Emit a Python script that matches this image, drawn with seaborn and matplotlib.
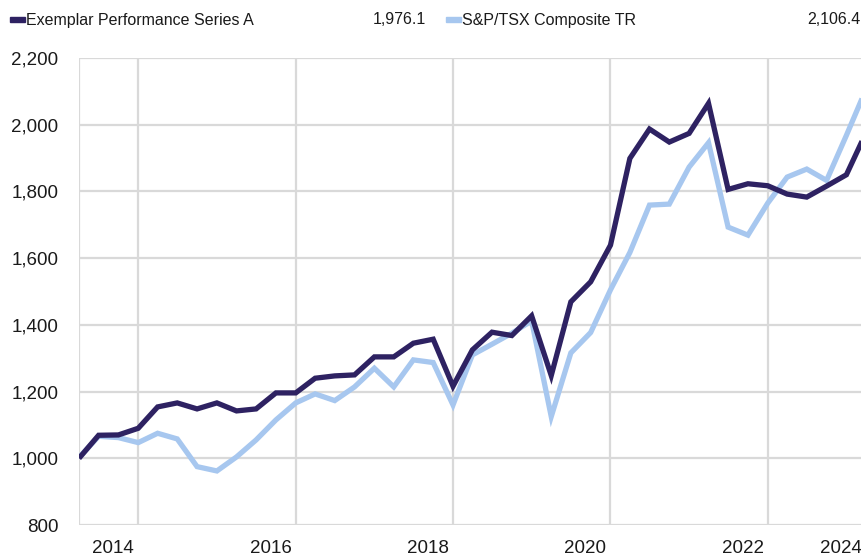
import pandas as pd
import matplotlib
matplotlib.use("Agg")
import matplotlib.pyplot as plt
import matplotlib.transforms as mtransforms
from matplotlib.patches import Rectangle
import seaborn as sns

# quarterly values, growth of 1,000 (Mar 2014 - Mar 2024)
quarters = pd.date_range("2014-03-31", periods=41, freq="QE")
series_a = [1000, 1069, 1070, 1090, 1154, 1166, 1148, 1166, 1142, 1148,
            1196, 1196, 1240, 1247, 1250, 1304, 1304, 1345, 1357, 1216,
            1325, 1378, 1368, 1427, 1248, 1469, 1529, 1639, 1899, 1987,
            1948, 1974, 2064, 1806, 1823, 1817, 1792, 1783, 1816, 1850,
            1976.1]
tsx = [1002, 1066, 1062, 1047, 1075, 1058, 975, 962, 1004, 1055,
       1115, 1166, 1193, 1173, 1214, 1270, 1214, 1295, 1287, 1160,
       1310, 1342, 1375, 1412, 1125, 1316, 1377, 1505, 1617, 1759,
       1762, 1873, 1946, 1693, 1669, 1765, 1843, 1867, 1833, 1968,
       2106.4]
series_names = ["Exemplar Performance Series A", "S&P/TSX Composite TR"]
colors = ["#2e2262", "#a7c7ef"]

tick_dates = [quarters[0]] + list(pd.to_datetime(["2014-12-31", "2016-12-31", "2018-12-31",
                                                  "2020-12-31", "2022-12-31"])) + [quarters[-1]]
tick_labels = ["", "2014", "2016", "2018", "2020", "2022", "2024"]
y_ticks = [800, 1000, 1200, 1400, 1600, 1800, 2000, 2200]

df = pd.DataFrame({"Date": list(quarters) * 2,
                   "Value": series_a + tsx,
                   "Series": [series_names[0]] * len(series_a) + [series_names[1]] * len(tsx)})

sns.set_theme(style="white")
plt.rcParams["font.family"] = ["Liberation Sans", "DejaVu Sans"]
grid_c = "#d9d9d9"

fig = plt.figure(figsize=(8.61, 5.57), dpi=100)
# plot area runs a few pixels past the right edge (last point is clipped)
ax = fig.add_axes([79 / 861, 1 - 525 / 557, (866 - 79) / 861, (525 - 58) / 557])

# benchmark first so the fund line sits on top
sns.lineplot(data=df, x="Date", y="Value", hue="Series", hue_order=series_names[::-1],
             palette=dict(zip(series_names, colors)), linewidth=3.8, ax=ax, legend=False, zorder=3)
for ln in ax.get_lines():
    ln.set_solid_joinstyle("miter")
    ln.set_solid_capstyle("butt")

ax.set_xlim(quarters[0], quarters[-1])
ax.set_ylim(800, 2200)
ax.set_yticks(y_ticks)
ax.set_yticklabels([f"{v:,}" for v in y_ticks])
ax.set_xticks(tick_dates)
ax.set_xticklabels(tick_labels)

ax.grid(True, color=grid_c, linewidth=1.6)
ax.tick_params(axis="x", length=9.5, width=1.6, color=grid_c, pad=1, labelsize=13.5, labelcolor="#1a1a1a")
ax.tick_params(axis="y", length=10, width=1.6, color=grid_c, pad=5, labelsize=13.5, labelcolor="#1a1a1a")
for s in ax.spines.values():
    s.set_visible(False)
ax.set_xlabel("")
ax.set_ylabel("")

# year labels sit just left of their gridline
shift = mtransforms.ScaledTranslation(-4 / 100, 0, fig.dpi_scale_trans)
for tick in ax.xaxis.get_major_ticks():
    tick.label1.set_horizontalalignment("right")
    tick.label1.set_transform(tick.label1.get_transform() + shift)

# legend row with final values
finals = [series_a[-1], tsx[-1]]
marker_x = [10, 446]
value_x = [426, 860]
for name, col, mx, vx, fv in zip(series_names, colors, marker_x, value_x, finals):
    fig.add_artist(Rectangle((mx / 861, 1 - 22 / 557), 15 / 861, 4.5 / 557,
                             transform=fig.transFigure, color=col))
    fig.text((mx + 16) / 861, 1 - 20 / 557, name, fontsize=11.5, va="center", color="#1a1a1a")
    fig.text(vx / 861, 1 - 20 / 557, f"{fv:,.1f}", fontsize=11.5, va="center", ha="right", color="#1a1a1a")

fig.savefig("out.png", dpi=100)
